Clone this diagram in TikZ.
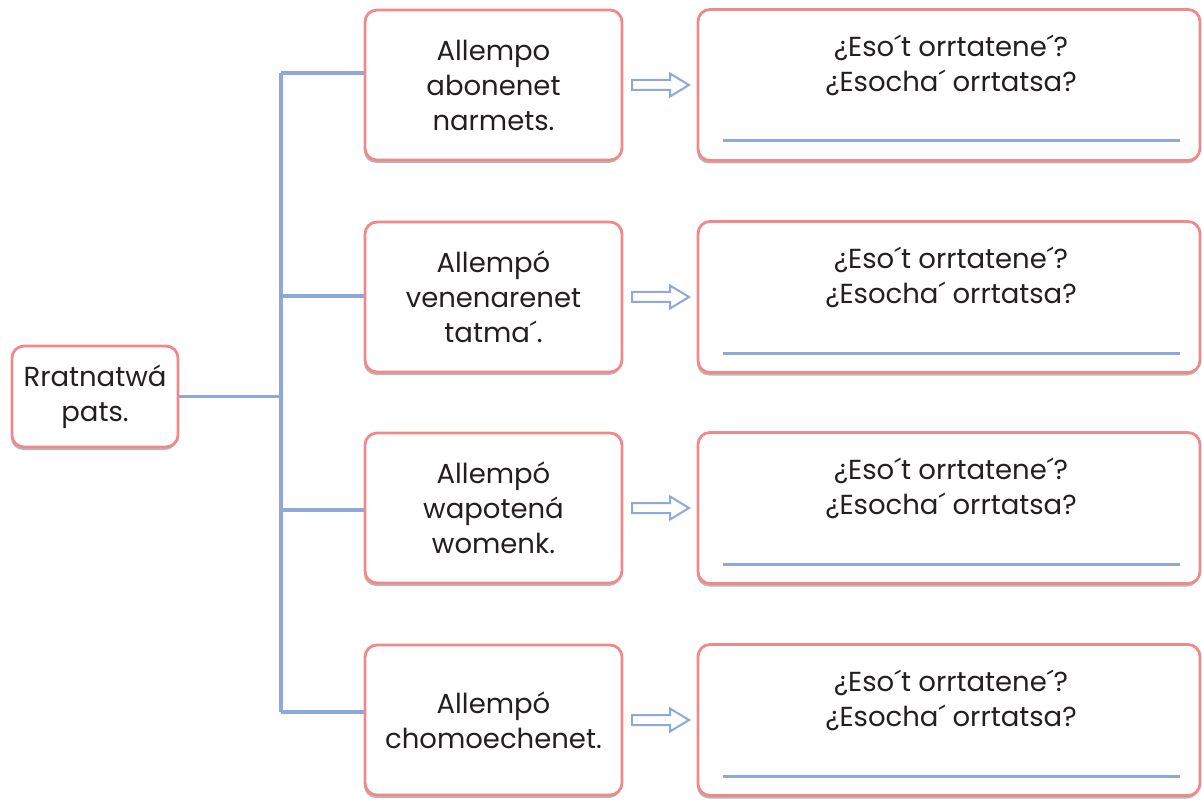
\documentclass[tikz,border=0pt]{standalone}
\usepackage{fontspec}
\setmainfont{Poppins}
\usetikzlibrary{shadows,calc}
\definecolor{pinkb}{HTML}{F08A8A}
\definecolor{blueL}{HTML}{8EA8DA}
\definecolor{txt}{HTML}{231F20}
\tikzset{
  box/.style={draw=pinkb, line width=2.8pt, rounded corners=12pt, fill=white,
    drop shadow={shadow xshift=-1pt, shadow yshift=-3pt, opacity=0.4, fill=black!70},
    align=center, font=\fontsize{27.5}{35}\selectfont, text=txt, inner sep=0pt},
  qtext/.style={align=center, font=\fontsize{27.5}{35}\selectfont, text=txt, inner sep=0pt},
  conn/.style={draw=blueL, line width=3.2pt},
  wline/.style={draw=blueL, line width=3pt},
  harrow/.style={draw=blueL, line width=2pt, fill=white, line join=miter},
}
\begin{document}
\begin{tikzpicture}[x=1pt,y=-1pt]
\useasboundingbox (0,0) rectangle (1202,802);
% root
\node[box, minimum width=166pt, minimum height=101pt] (root) at (95,396.5) {Rratnatwá\\pats.};
% middle boxes
\node[box, minimum width=257pt, minimum height=150pt] (m1) at (493.5,85) {Allempo\\abonenet\\narmets.};
\node[box, minimum width=257pt, minimum height=150pt] (m2) at (493.5,297) {Allempó\\venenarenet\\tatma´.};
\node[box, minimum width=257pt, minimum height=150pt] (m3) at (493.5,508) {Allempó\\wapotená\\womenk.};
\node[box, minimum width=257pt, minimum height=150pt] (m4) at (493.5,720) {Allempó\\chomoechenet.};
% right boxes
\foreach \i/\cy in {1/85,2/297,3/508,4/720}{
  \node[box, minimum width=502pt, minimum height=151pt] (r\i) at (949,\cy) {};
  \node[qtext] (q\i) at (951,\cy-20) {¿Eso´t orrtatene´?\\¿Esocha´ orrtatsa?};
  \coordinate (la\i) at (723,\cy+56);
  \coordinate (lb\i) at (1180,\cy+56);
  \draw[wline] (la\i) -- (lb\i);
  % hollow arrow
  \coordinate (a\i) at (632,\cy);
  \draw[harrow] ($(a\i)+(0,-5)$) -- ++(38,0) -- ++(0,-6.5) -- ($(a\i)+(57,0)$)
     -- ($(a\i)+(38,11.5)$) -- ++(0,-6.5) -- ($(a\i)+(0,5)$) -- cycle;
}
% connectors
\coordinate (t1) at (281,73);
\coordinate (t2) at (281,296);
\coordinate (t3) at (281,510);
\coordinate (t4) at (281,712);
\draw[conn] (t1) -- (t4);
\draw[conn] (root.east) -- (root.east -| t1);
\draw[conn] (t1) -- (t1 -| m1.west);
\draw[conn] (t2) -- (t2 -| m2.west);
\draw[conn] (t3) -- (t3 -| m3.west);
\draw[conn] (t4) -- (t4 -| m4.west);
\end{tikzpicture}
\end{document}
